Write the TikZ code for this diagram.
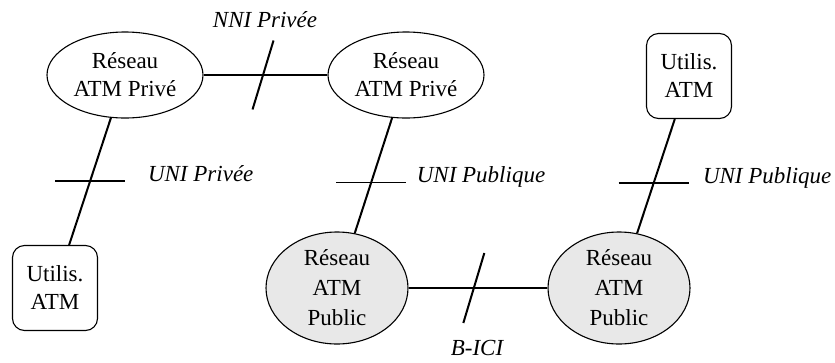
\documentclass[tikz,border=0pt]{standalone}
\usepackage{fontspec}
\setmainfont{Liberation Serif}
\usetikzlibrary{shapes.geometric}

\begin{document}
\begin{tikzpicture}[
    x=1pt, y=-1pt,
    every node/.style={font=\fontsize{23}{28}\selectfont},
    reseau/.style={ellipse, draw, line width=1.1pt, inner sep=0pt, align=center,
        minimum width=156pt, minimum height=86pt},
    public/.style={reseau, fill=gray!18, font=\fontsize{23}{30}\selectfont,
        minimum width=142pt, minimum height=112pt},
    utilis/.style={rectangle, draw, line width=1.1pt, rounded corners=12pt,
        align=center, minimum width=85pt, minimum height=85pt},
    important line/.style={line width=2pt},
    thin line/.style={line width=1.2pt},
    iface/.style={font=\fontsize{23}{28}\selectfont\itshape}
    ]
    % frame
    \useasboundingbox (0,0) rectangle (835,362);
    % Networks
    \node[reseau] (prive1) at (125,75) {Réseau\\ATM Privé};
    \node[reseau] (prive2) at (406,75) {Réseau\\ATM Privé};
    \node[public] (public1) at (337,288) {Réseau\\ATM\\Public};
    \node[public] (public2) at (619,288) {Réseau\\ATM\\Public};
    % Users
    \node[utilis] (user1) at (55,288) {Utilis.\\ATM};
    \node[utilis] (user2) at (689,76) {Utilis.\\ATM};
    % Links
    \draw[important line] (prive1) -- coordinate[pos=0.48] (nni) (prive2);
    \draw[important line] (prive1) -- coordinate[pos=0.5] (uni1) (user1);
    \draw[important line] (prive2) -- coordinate[pos=0.56] (uni2) (public1);
    \draw[important line] (user2) -- coordinate[pos=0.56] (uni3) (public2);
    \draw[important line] (public1) -- coordinate[pos=0.47] (bici) (public2);
    % Interfaces
    \draw[important line] (nni) ++(10.5,-34.5) -- ++(-21,69);
    \node[iface] (nnilabel) at (265,20) {NNI Privée};
    \draw[important line] (bici) ++(10.5,-35) -- ++(-21,70);
    \node[iface] (bicilabel) at (477,348) {B-ICI};
    \draw[important line] (uni1) ++(-35,0) -- ++(70,0)
        node[iface, anchor=base west, xshift=18.7pt] (uni1label) {UNI Privée};
    \draw[thin line] (uni2) ++(-35,0) -- ++(70,0)
        node[iface, anchor=base west, xshift=6.7pt] (uni2label) {UNI Publique};
    \draw[important line] (uni3) ++(-35,0) -- ++(70,0)
        node[iface, anchor=base west, xshift=10pt] (uni3label) {UNI Publique};
\end{tikzpicture}
\end{document}
